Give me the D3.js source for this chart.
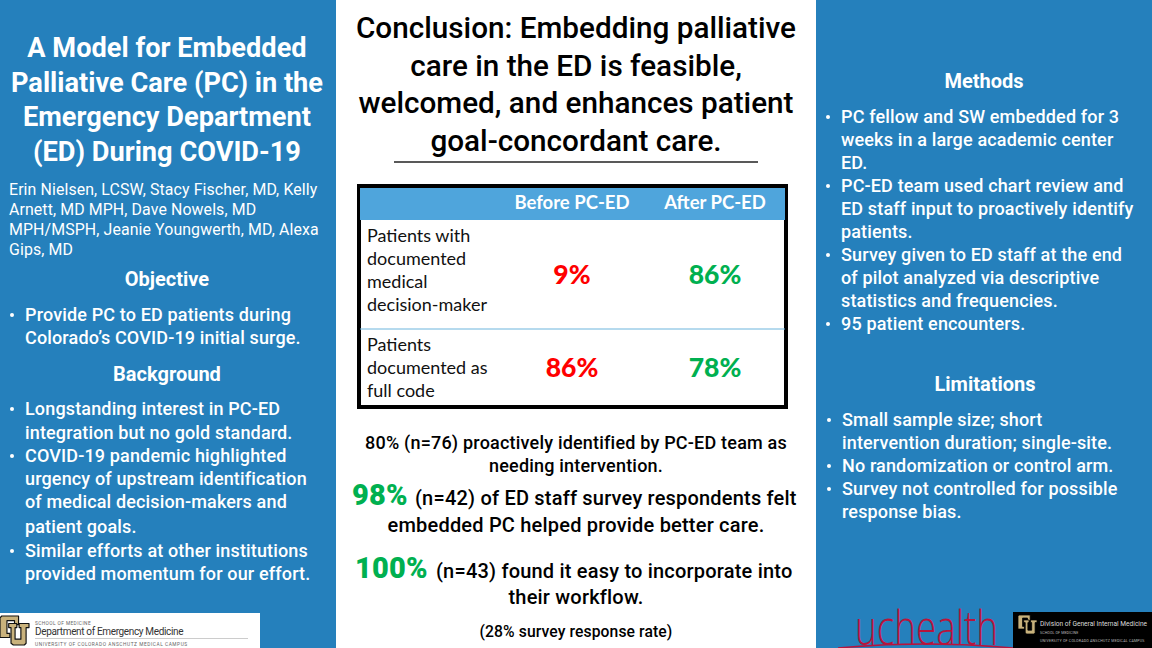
<!DOCTYPE html>
<html>

<head>
    <meta charset="utf-8">
    <script src="https://d3js.org/d3.v7.min.js"></script>
    <title>Embedded Palliative Care in the ED</title>
    <style>
        body {
            margin: 0px;
            background: #fff;
        }

        svg {
            display: block;
        }

        text {
            font-family: Roboto, sans-serif;
        }
    </style>
</head>

<body>
    <svg width="1152" height="648"></svg>
    <script>
        //  Text of the poster.
        const titleLines = ['A Model for Embedded', 'Palliative Care (PC) in the', 'Emergency Department', '(ED) During COVID-19'];
        const authorLines = ['Erin Nielsen, LCSW, Stacy Fischer, MD, Kelly', 'Arnett, MD MPH, Dave Nowels, MD', 'MPH/MSPH, Jeanie Youngwerth, MD, Alexa', 'Gips, MD'];
        const objectiveLines = ['Provide PC to ED patients during', 'Colorado’s COVID-19 initial surge.'];
        const backgroundLines = ['Longstanding interest in PC-ED', 'integration but no gold standard.', 'COVID-19 pandemic highlighted', 'urgency of upstream identification', 'of medical decision-makers and', 'patient goals.', 'Similar efforts at other institutions', 'provided momentum for our effort.'];
        const conclusionLines = ['Conclusion: Embedding palliative', 'care in the ED is feasible,', 'welcomed, and enhances patient', 'goal-concordant care.'];
        const methodsLines = ['PC fellow and SW embedded for 3', 'weeks in a large academic center', 'ED.', 'PC-ED team used chart review and', 'ED staff input to proactively identify', 'patients.', 'Survey given to ED staff at the end', 'of pilot analyzed via descriptive', 'statistics and frequencies.', '95 patient encounters.'];
        const limitationsLines = ['Small sample size; short', 'intervention duration; single-site.', 'No randomization or control arm.', 'Survey not controlled for possible', 'response bias.'];

        //  Table values.
        const tableColumns = ['Before PC-ED', 'After PC-ED'];
        const tableRows = [
            ['Patients with', 'documented', 'medical', 'decision-maker'],
            ['Patients', 'documented as', 'full code']
        ];
        const beforeValues = ['9%', '86%'];
        const afterValues = ['86%', '78%'];

        //  Survey results under the table.
        const surveyLine = ['80% (n=76) proactively identified by PC-ED team as', 'needing intervention.'];
        const staffPercent = '98%';
        const staffLine = ['(n=42) of ED staff survey respondents felt', 'embedded PC helped provide better care.'];
        const workflowPercent = '100%';
        const workflowLine = ['(n=43) found it easy to incorporate into', 'their workflow.'];
        const responseRate = '(28% survey response rate)';

        const blue = '#2580bc';
        const svg = d3.select('svg');

        //  Draws lines of text at the given baselines.
        function drawLines(lines, ys, o) {
            return svg.append('g')
                .selectAll('text')
                .data(lines)
                .join('text')
                .attr('x', (d, i) => Array.isArray(o.x) ? o.x[i] : o.x)
                .attr('y', (d, i) => ys[i])
                .attr('text-anchor', o.anchor || 'start')
                .attr('fill', o.fill || '#fff')
                .attr('font-size', o.size)
                .attr('font-weight', o.weight || 400)
                .style('font-family', o.family || null)
                .style('letter-spacing', o.spacing ? o.spacing + 'px' : null)
                .text(d => d);
        }

        function drawBullets(x, ys) {
            svg.append('g')
                .selectAll('circle')
                .data(ys)
                .join('circle')
                .attr('cx', x)
                .attr('cy', d => d - 6)
                .attr('r', 2)
                .attr('fill', '#fff');
        }

        //  Panels.
        svg.append('rect').attr('width', 336).attr('height', 648).attr('fill', blue);
        svg.append('rect').attr('x', 816).attr('width', 336).attr('height', 648).attr('fill', blue);

        //  Left panel.
        const bodyText = { size: 18, weight: 500, spacing: 0.15 };
        const heading = { anchor: 'middle', size: 20, weight: 700 };
        drawLines(titleLines, [57, 92, 126, 161], { x: 167, anchor: 'middle', size: 27.2, weight: 700 });
        drawLines(authorLines, [195, 215, 235, 255], { x: 9, size: 15.9, spacing: 0.1 });
        drawLines(['Objective'], [286], { ...heading, x: 167 });
        drawLines(objectiveLines, [321, 344], { ...bodyText, x: 25 });
        drawBullets(12, [321]);
        drawLines(['Background'], [381], { ...heading, x: 167 });
        drawLines(backgroundLines, [415, 439, 462, 485, 508, 533, 557, 580], { ...bodyText, x: 25 });
        drawBullets(12, [415, 462, 557]);

        //  Centre panel heading.
        drawLines(conclusionLines, [38, 76, 113, 151], { x: 576, anchor: 'middle', size: 29.7, weight: 500, fill: '#000' });
        svg.append('line').attr('x1', 394).attr('x2', 758).attr('y1', 162).attr('y2', 162)
            .attr('stroke', '#222').attr('stroke-width', 1.5);

        //  Table.
        const columnX = d3.scaleOrdinal().domain(tableColumns).range([572, 715]);
        const rowY = d3.scaleOrdinal().domain([0, 1]).range([284, 377]);

        svg.append('rect').attr('x', 359).attr('y', 186).attr('width', 427).attr('height', 221)
            .attr('fill', '#fff').attr('stroke', '#000').attr('stroke-width', 4);
        svg.append('rect').attr('x', 360).attr('y', 188).attr('width', 425).attr('height', 32).attr('fill', '#4fa5dc');
        svg.append('line').attr('x1', 360).attr('x2', 785).attr('y1', 329).attr('y2', 329)
            .attr('stroke', '#6db5dd').attr('stroke-width', 1);

        svg.append('g')
            .selectAll('text')
            .data(tableColumns)
            .join('text')
            .attr('x', d => columnX(d))
            .attr('y', 209)
            .attr('text-anchor', 'middle')
            .attr('fill', '#fff')
            .attr('font-size', 18.5)
            .attr('font-weight', 700)
            .style('font-family', 'Lato')
            .text(d => d);

        drawLines(tableRows[0], [242, 265, 288, 311], { x: 367, size: 18, fill: '#111', family: 'Lato' });
        drawLines(tableRows[1], [351, 374, 397], { x: 367, size: 18, fill: '#111', family: 'Lato' });

        [[tableColumns[0], beforeValues, '#ff0000'], [tableColumns[1], afterValues, '#00b050']].forEach(([col, values, color]) => {
            svg.append('g')
                .selectAll('text')
                .data(values)
                .join('text')
                .attr('x', columnX(col))
                .attr('y', (d, i) => rowY(i))
                .attr('text-anchor', 'middle')
                .attr('fill', color)
                .attr('font-size', 26.5)
                .attr('font-weight', 900)
                .style('font-family', 'Lato')
                .text(d => d);
        });

        //  Results.
        const bigPercent = { size: 29, weight: 900, fill: '#00b050', spacing: 0.2 };
        const resultText = { size: 20, weight: 500, fill: '#000', spacing: 0.2 };
        drawLines(surveyLine, [449, 472], { x: 576, anchor: 'middle', size: 18, weight: 500, fill: '#000', spacing: 0.2 });
        drawLines([staffPercent], [505], { ...bigPercent, x: 352 });
        drawLines(staffLine, [505, 532], { ...resultText, x: [415, 576] })
            .attr('text-anchor', (d, i) => i ? 'middle' : 'start');
        drawLines([workflowPercent], [578], { ...bigPercent, x: 355 });
        drawLines(workflowLine, [578, 604], { ...resultText, x: [436, 576] })
            .attr('text-anchor', (d, i) => i ? 'middle' : 'start');
        drawLines([responseRate], [637], { x: 576, anchor: 'middle', size: 15.7, weight: 500, fill: '#000', spacing: 0.1 });

        //  Right panel.
        drawLines(['Methods'], [88], { ...heading, x: 984 });
        drawLines(methodsLines, [123, 146, 169, 192, 215, 238, 261, 284, 307, 330], { ...bodyText, x: 841 });
        drawBullets(828, [123, 192, 261, 330]);
        drawLines(['Limitations'], [391], { ...heading, x: 985 });
        drawLines(limitationsLines, [426, 449, 472, 495, 518], { ...bodyText, x: 842 });
        drawBullets(829, [426, 472, 495]);

        //  Logos.
        svg.append('rect').attr('y', 613).attr('width', 260).attr('height', 35).attr('fill', '#fff');
        svg.append('rect').attr('x', 1013).attr('y', 612).attr('width', 139).attr('height', 36).attr('fill', '#000');

        //  Interlocking CU mark in a 100 by 100 box.
        function drawCu(x, y, scale, outline) {
            const g = svg.append('g').attr('transform', `translate(${x},${y}) scale(${scale})`)
                .attr('fill', '#c9b27c').attr('stroke', outline).attr('stroke-width', 4).attr('stroke-linejoin', 'round');
            g.append('path').attr('d', 'M6,0 H64 V30 H50 V16 H24 V60 H34 V74 H0 V6 Z');
            g.append('path').attr('d', 'M30,26 H58 V40 H52 V80 H72 V40 H66 V26 H100 V40 H90 V94 L84,100 H46 L38,94 V40 H30 Z');
        }
        drawCu(0, 616, 0.29, '#111');
        drawLines(['SCHOOL OF MEDICINE'], [625], { x: 35, size: 4.8, fill: '#666', spacing: 0.4 });
        drawLines(['Department of Emergency Medicine'], [635], { x: 35, size: 10, fill: '#333', spacing: -0.35 });
        svg.append('line').attr('x1', 35).attr('x2', 248).attr('y1', 638.5).attr('y2', 638.5).attr('stroke', '#ccc');
        drawLines(['UNIVERSITY OF COLORADO ANSCHUTZ MEDICAL CAMPUS'], [646], { x: 35, size: 4.8, fill: '#666', spacing: 0.55 });

        //  The wordmark is tall and narrow, so squeeze it to its width in the reference.
        drawLines(['uchealth'], [645], { x: 855, size: 47, fill: '#b8143c', family: 'Open Sans', weight: 300 })
            .attr('textLength', 143)
            .attr('lengthAdjust', 'spacingAndGlyphs');
        svg.append('path').attr('d', 'M838,648 Q925,640 1013,648').attr('fill', 'none').attr('stroke', '#b8143c').attr('stroke-width', 1.5);

        drawCu(1018, 615, 0.19, '#000');
        drawLines(['Division of General Internal Medicine'], [626], { x: 1040, size: 6.6, fill: '#ddd' });
        drawLines(['SCHOOL OF MEDICINE'], [634], { x: 1040, size: 3.6, fill: '#bbb', spacing: 0.1 });
        drawLines(['UNIVERSITY OF COLORADO ANSCHUTZ MEDICAL CAMPUS'], [642], { x: 1040, size: 3.6, fill: '#bbb', spacing: 0.2 });
    </script>
</body>

</html>
